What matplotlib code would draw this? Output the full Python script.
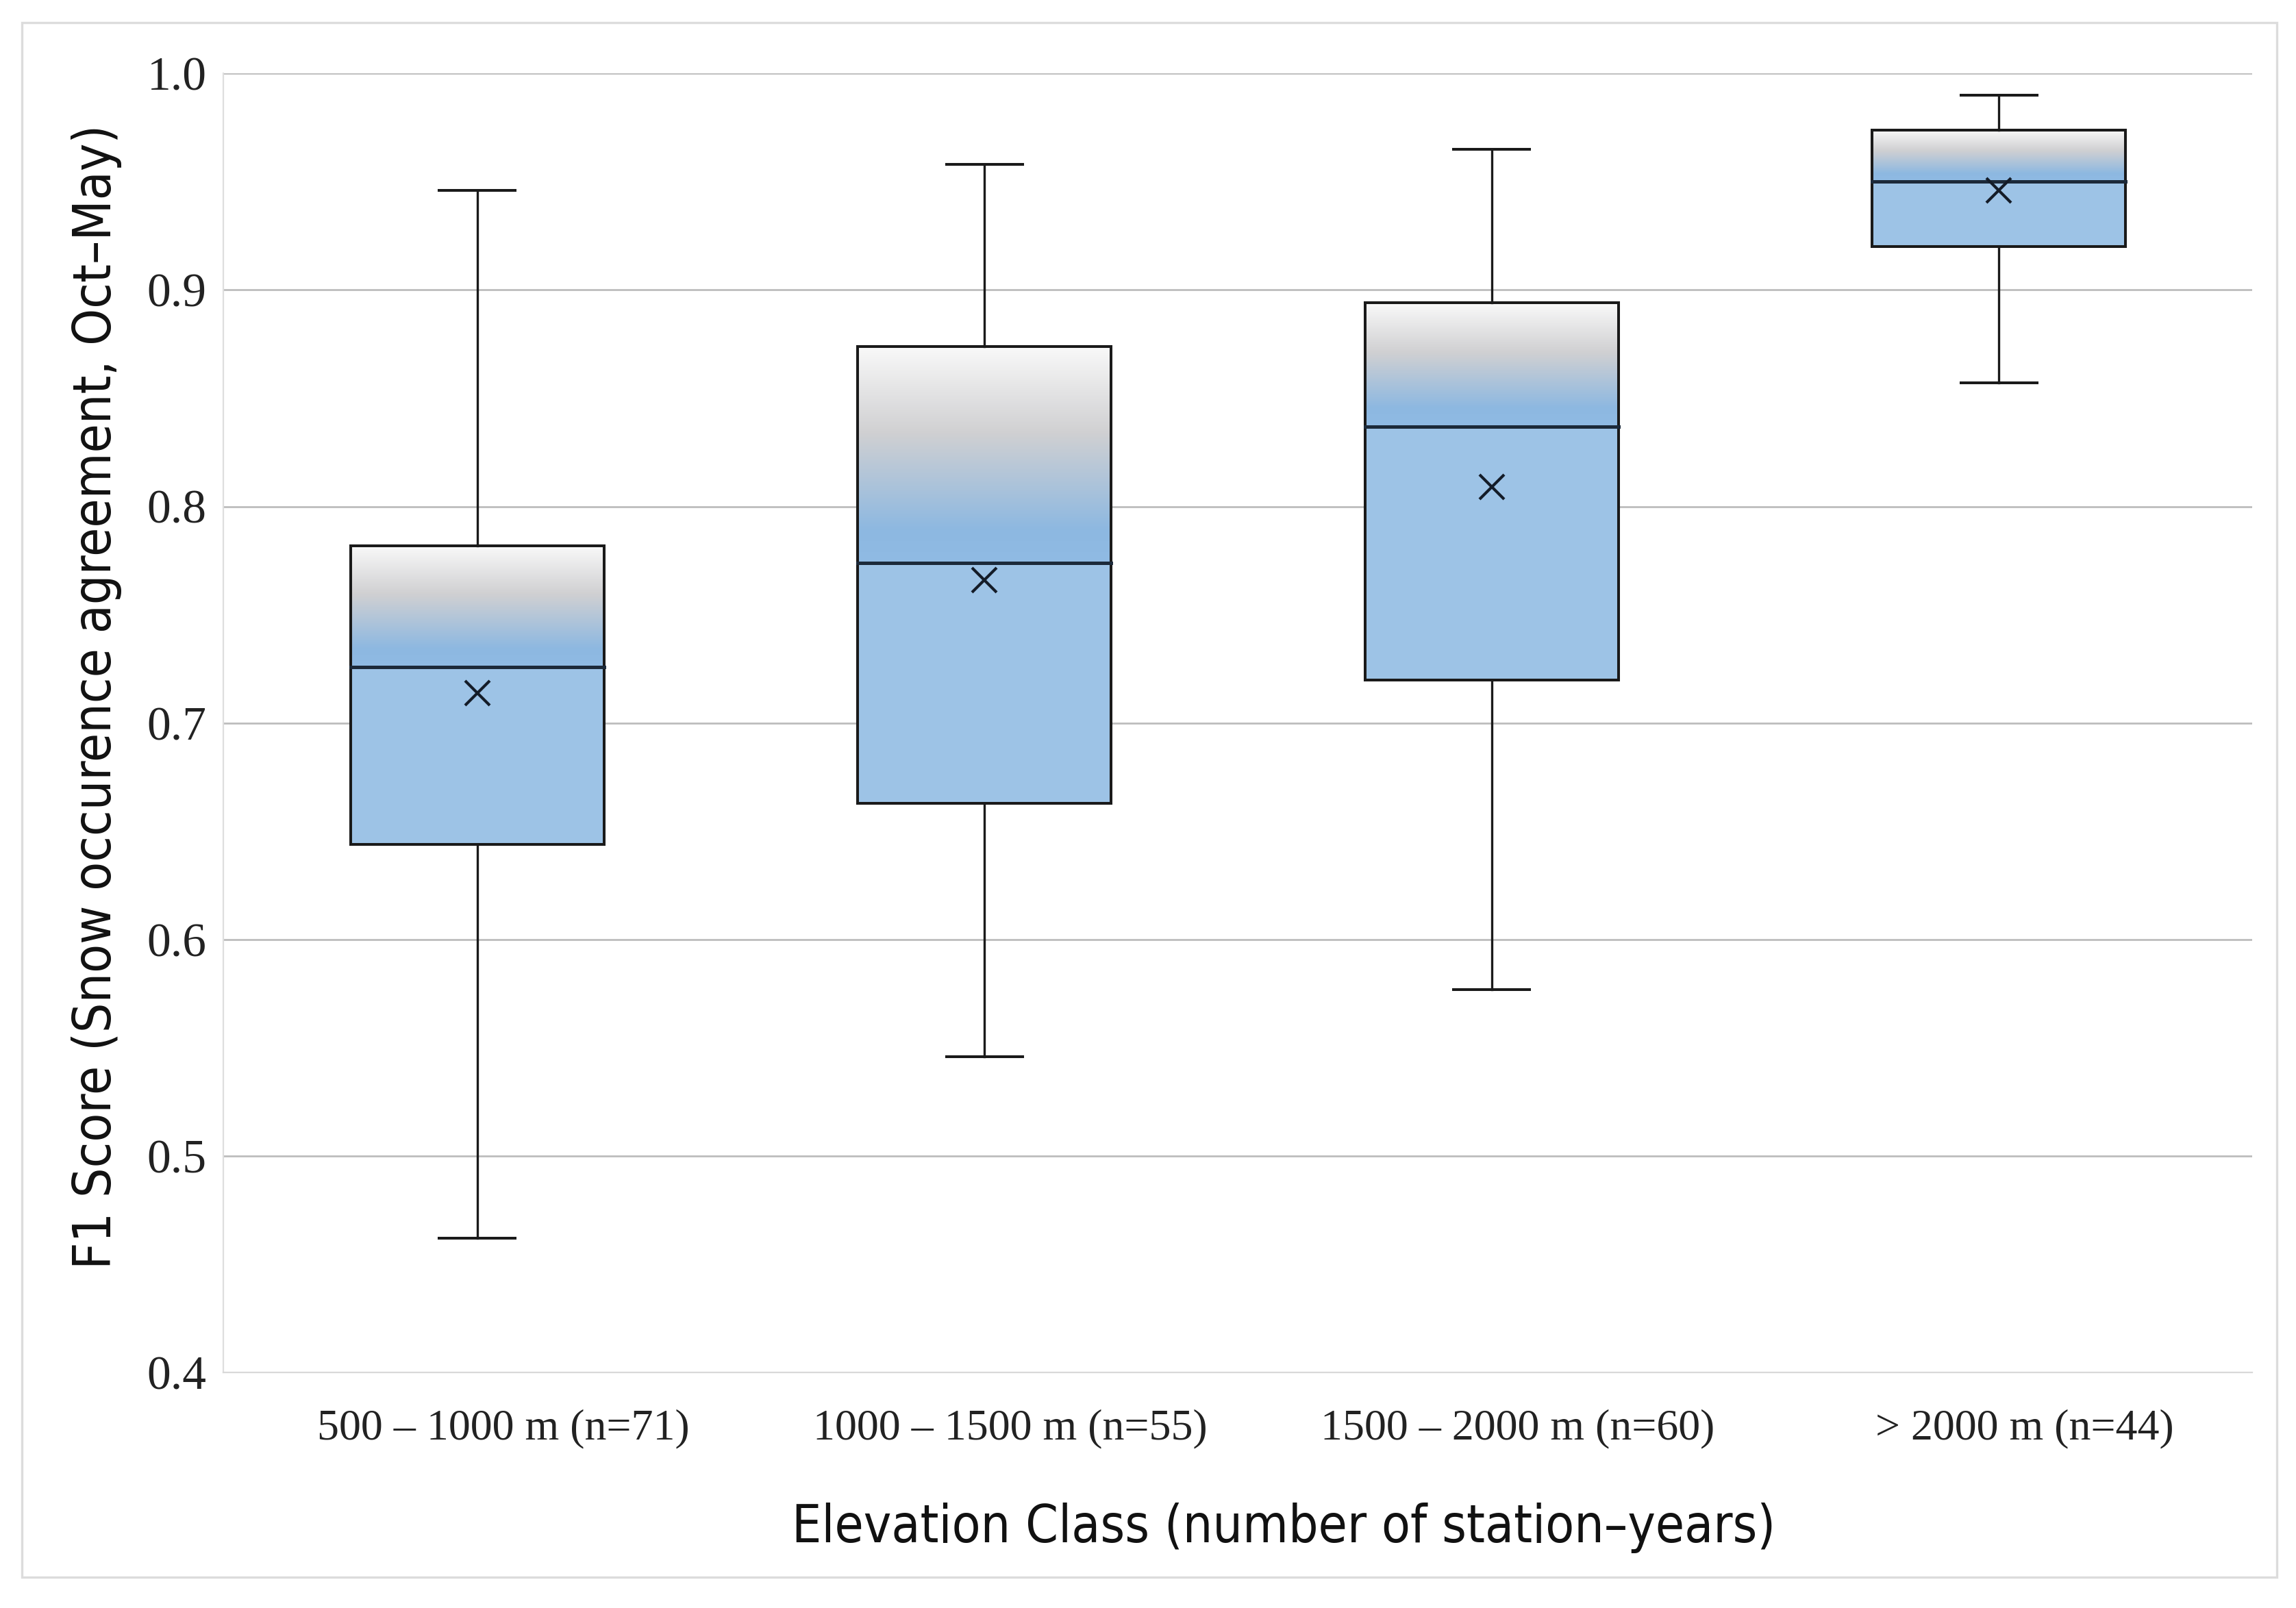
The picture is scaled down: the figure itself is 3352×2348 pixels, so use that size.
import numpy as np
import matplotlib.pyplot as plt
from matplotlib.colors import LinearSegmentedColormap
from matplotlib.patches import Rectangle
from matplotlib.transforms import ScaledTranslation

# elevation classes and box statistics
classes = ["500 \u2013 1000 m (n=71)", "1000 \u2013 1500 m (n=55)",
           "1500 \u2013 2000 m (n=60)", "> 2000 m (n=44)"]
whisk_lo = [0.462, 0.546, 0.577, 0.857]
q1 = [0.644, 0.663, 0.720, 0.920]
median = [0.726, 0.774, 0.837, 0.950]
mean = [0.714, 0.766, 0.809, 0.946]
q3 = [0.782, 0.874, 0.894, 0.974]
whisk_hi = [0.946, 0.958, 0.965, 0.990]

# upper half of box: light grey -> grey -> blue ; lower half flat light blue
grad = LinearSegmentedColormap.from_list(
    "boxgrad", [(0.0, "#f9f9f9"), (0.40, "#d0d0d2"), (0.85, "#8db8e1"), (1.0, "#90bbe4")])
low_col = "#9dc3e6"

fig = plt.figure(figsize=(16.76, 11.74), dpi=200)
ax = fig.add_axes([0.0974, 0.1464, 0.8836, 0.8079])

# faint frame around the whole figure
fig.patches.append(Rectangle((0.0096, 0.019), 0.982, 0.967, transform=fig.transFigure,
                             fill=False, edgecolor="#dcdcdc", linewidth=1.2))

x = np.arange(len(classes))
bw = 0.25
cw = 0.075
g = np.linspace(0, 1, 256).reshape(-1, 1)
for i in range(len(classes)):
    ax.imshow(g, cmap=grad, aspect="auto", origin="upper",
              extent=[x[i] - bw, x[i] + bw, median[i], q3[i]], zorder=2)
    ax.add_patch(Rectangle((x[i] - bw, q1[i]), 2 * bw, median[i] - q1[i],
                           facecolor=low_col, edgecolor="none", zorder=2))
    ax.add_patch(Rectangle((x[i] - bw, q1[i]), 2 * bw, q3[i] - q1[i], fill=False,
                           edgecolor="#1a1a1a", linewidth=1.45, zorder=3))
    ax.plot([x[i] - bw, x[i] + bw], [median[i], median[i]], color="#1c2a3a", lw=1.8, zorder=4)
    ax.plot([x[i], x[i]], [q3[i], whisk_hi[i]], color="#1a1a1a", lw=1.2, zorder=3)
    ax.plot([x[i], x[i]], [whisk_lo[i], q1[i]], color="#1a1a1a", lw=1.2, zorder=3)
    ax.plot([x[i] - cw, x[i] + cw], [whisk_hi[i], whisk_hi[i]], color="#1a1a1a", lw=1.45, zorder=3)
    ax.plot([x[i] - cw, x[i] + cw], [whisk_lo[i], whisk_lo[i]], color="#1a1a1a", lw=1.45, zorder=3)

ax.plot(x, mean, linestyle="none", marker="x", markersize=13, markeredgewidth=1.5,
        color="#141c28", zorder=5)

ax.set_xlim(-0.5, len(classes) - 0.5)
ax.set_ylim(0.4, 1.0)
ax.set_yticks(np.arange(0.4, 1.01, 0.1))
ax.set_yticklabels([f"{v:.1f}" for v in np.arange(0.4, 1.01, 0.1)])
ax.set_xticks(x)
ax.set_xticklabels(classes)
ax.grid(axis="y", color="#bdbdbd", linewidth=1.0, zorder=0)
ax.set_axisbelow(True)
for s in ["right", "top"]:
    ax.spines[s].set_visible(False)
ax.spines["bottom"].set_color("#d9d9d9")
ax.spines["left"].set_color("#dedede")
ax.tick_params(length=0)
ax.tick_params(axis="y", pad=9)
ax.tick_params(axis="x", pad=19)
for lab in ax.get_yticklabels():
    lab.set_fontfamily("Liberation Serif")
    lab.set_fontsize(25)
    lab.set_color("#222222")
for lab in ax.get_xticklabels():
    lab.set_fontfamily("Liberation Serif")
    lab.set_fontsize(23)
    lab.set_color("#222222")
    lab.set_transform(lab.get_transform() + ScaledTranslation(0.19, 0, fig.dpi_scale_trans))

ax.set_xlabel("Elevation Class (number of station\u2013years)", fontsize=27.5,
              family="DejaVu Sans", fontstretch="condensed", color="#111111")
ax.set_ylabel("F1 Score (Snow occurence agreement, Oct\u2013May)", fontsize=27.5,
              family="DejaVu Sans", fontstretch="condensed", color="#111111")
ax.xaxis.set_label_coords(0.5225, -0.100)
ax.yaxis.set_label_coords(-0.050, 0.52)

fig.savefig("out.png", dpi=200)
